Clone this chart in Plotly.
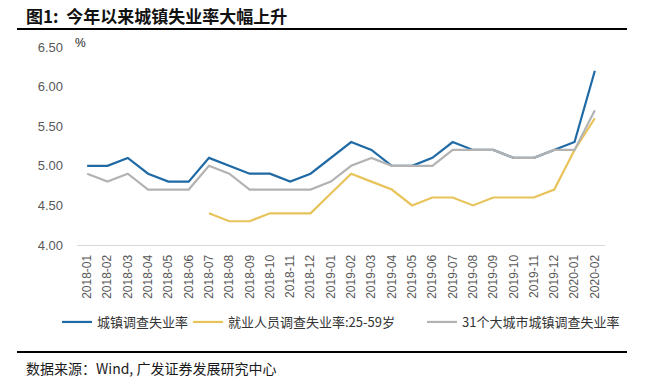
import plotly.graph_objects as go

months = ["2018-01","2018-02","2018-03","2018-04","2018-05","2018-06","2018-07","2018-08","2018-09","2018-10","2018-11","2018-12",
          "2019-01","2019-02","2019-03","2019-04","2019-05","2019-06","2019-07","2019-08","2019-09","2019-10","2019-11","2019-12",
          "2020-01","2020-02"]
urban = [5.0,5.0,5.1,4.9,4.8,4.8,5.1,5.0,4.9,4.9,4.8,4.9,
         5.1,5.3,5.2,5.0,5.0,5.1,5.3,5.2,5.2,5.1,5.1,5.2,
         5.3,6.2]
age25_59 = [None,None,None,None,None,None,4.4,4.3,4.3,4.4,4.4,4.4,
            4.65,4.9,4.8,4.7,4.5,4.6,4.6,4.5,4.6,4.6,4.6,4.7,
            5.2,5.6]
city31 = [4.9,4.8,4.9,4.7,4.7,4.7,5.0,4.9,4.7,4.7,4.7,4.7,
          4.8,5.0,5.1,5.0,5.0,5.0,5.2,5.2,5.2,5.1,5.1,5.2,
          5.2,5.7]
yticks = [4.0,4.5,5.0,5.5,6.0,6.5]

FONT = "Arial, 'Liberation Sans', 'Noto Sans CJK SC', sans-serif"
CJK = "'Noto Sans CJK SC', 'Liberation Sans', sans-serif"

fig = go.Figure()
fig.add_trace(go.Scatter(x=months, y=urban, mode="lines", name="城镇调查失业率",
                         line=dict(color="#1f6aa5", width=2.2), legend="legend"))
fig.add_trace(go.Scatter(x=months, y=age25_59, mode="lines", name="就业人员调查失业率:25-59岁",
                         line=dict(color="#e8c35a", width=2.2), legend="legend2"))
fig.add_trace(go.Scatter(x=months, y=city31, mode="lines", name="31个大城市城镇调查失业率",
                         line=dict(color="#b3b3b3", width=2.2), legend="legend3"))

L, R, T, B = 77, 40, 47, 143
W, H = 645, 388
pw = W - L - R
ph = H - T - B

def px(x):
    return (x - L) / pw

def py(y):
    return (H - B - y) / ph

def leg(x):
    return dict(orientation="h", x=px(x), y=py(322), yanchor="middle", xanchor="left",
                font=dict(family=CJK, size=13, color="#333333"),
                itemwidth=30, bgcolor="rgba(0,0,0,0)", borderwidth=0)

fig.update_layout(
    width=W, height=H,
    margin=dict(l=L, r=R, t=T, b=B, autoexpand=False),
    paper_bgcolor="white", plot_bgcolor="white",
    font=dict(family=FONT, color="#595959"),
    showlegend=True,
    legend=leg(57), legend2=leg(188), legend3=leg(422),
    xaxis=dict(type="category", tickangle=-90, tickfont=dict(size=12, color="#595959"),
               showgrid=False, showline=True, linecolor="#d9d9d9", linewidth=1,
               ticks="", range=[-0.5, 25.5], ticklabelstandoff=4, automargin=False),
    yaxis=dict(range=[4.0, 6.5], tickvals=yticks, ticktext=[f"{v:.2f}" for v in yticks],
               tickfont=dict(size=13, color="#595959"), showgrid=False, zeroline=False,
               showline=False, ticks="", ticklabelstandoff=13, automargin=False),
    shapes=[
        dict(type="line", xref="paper", yref="paper", x0=px(17), x1=px(627), y0=py(29), y1=py(29),
             line=dict(color="black", width=2)),
        dict(type="line", xref="paper", yref="paper", x0=px(17), x1=px(627), y0=py(352), y1=py(352),
             line=dict(color="black", width=2)),
    ],
    annotations=[
        dict(text="<b>图1:  今年以来城镇失业率大幅上升</b>", xref="paper", yref="paper",
             x=px(24), y=py(15), xanchor="left", yanchor="middle", showarrow=False,
             font=dict(family=CJK, size=17, color="#111111")),
        dict(text="%", xref="paper", yref="paper", x=px(73), y=py(43), xanchor="left", yanchor="middle",
             showarrow=False, font=dict(family=FONT, size=12, color="#1a1a1a")),
        dict(text="数据来源：Wind, 广发证券发展研究中心", xref="paper", yref="paper",
             x=px(24), y=py(368), xanchor="left", yanchor="middle", showarrow=False,
             font=dict(family=CJK, size=14, color="#1a1a1a")),
    ],
)

fig.write_html("out.html", config={"displayModeBar": False},
               post_script="document.body.style.margin='0';document.body.style.overflow='hidden';")
